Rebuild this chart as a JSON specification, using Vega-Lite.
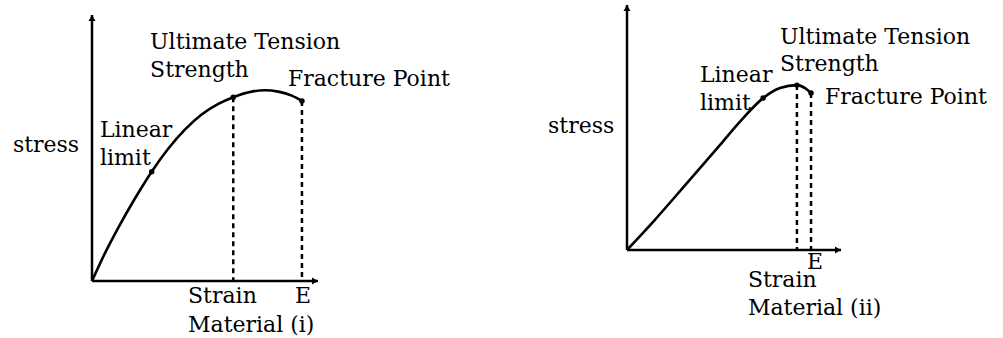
{
  "$schema": "https://vega.github.io/schema/vega-lite/v6.json",
  "background": "white",
  "padding": 0,
  "spacing": 0,
  "config": {"view": {"stroke": null}},
  "datasets": {
    "curve_i": [
      {"x": 0, "y": 0}, {"x": 5.75, "y": 10.5}, {"x": 11.6, "y": 20.0}, {"x": 19.0, "y": 31.0},
      {"x": 26.4, "y": 41.1}, {"x": 33.8, "y": 49.8}, {"x": 41.2, "y": 57.0}, {"x": 48.5, "y": 62.6},
      {"x": 55.9, "y": 66.6}, {"x": 62.5, "y": 69.1}, {"x": 70.7, "y": 71.2}, {"x": 76.5, "y": 71.7},
      {"x": 82.4, "y": 71.2}, {"x": 88.4, "y": 69.7}, {"x": 92.9, "y": 67.7}
    ],
    "points_i": [
      {"name": "Linear limit", "x": 26.4, "y": 41.1},
      {"name": "Ultimate Tension Strength", "x": 62.5, "y": 69.1},
      {"name": "Fracture Point", "x": 92.9, "y": 67.7}
    ],
    "drops_i": [
      {"x": 62.5, "y": 69.1, "x2": 62.5, "y2": 0},
      {"x": 92.9, "y": 67.7, "x2": 92.9, "y2": 0}
    ],
    "axes_i": [
      {"dir": "right", "x": 0, "y": 0, "x2": 100, "y2": 0},
      {"dir": "up", "x": 0, "y": 0, "x2": 0, "y2": 100}
    ],
    "labels_i": [
      {"label": "Ultimate Tension", "x": 25.7, "y": 87.2},
      {"label": "Strength", "x": 25.7, "y": 76.7},
      {"label": "Fracture Point", "x": 86.7, "y": 73.3},
      {"label": "Linear", "x": 3.5, "y": 54.1},
      {"label": "limit", "x": 3.5, "y": 43.6},
      {"label": "stress", "x": -35.0, "y": 48.5},
      {"label": "Strain", "x": 42.5, "y": -8.3},
      {"label": "E", "x": 89.8, "y": -8.3},
      {"label": "Material (i)", "x": 42.5, "y": -19.2}
    ],
    "curve_ii": [
      {"x": 0, "y": 0}, {"x": 12.3, "y": 11.6}, {"x": 27.9, "y": 27.2}, {"x": 43.5, "y": 42.9},
      {"x": 52.8, "y": 52.4}, {"x": 63.6, "y": 62.0}, {"x": 71.5, "y": 66.1}, {"x": 79.4, "y": 67.3},
      {"x": 83.2, "y": 66.1}, {"x": 86.0, "y": 64.1}
    ],
    "points_ii": [
      {"name": "Linear limit", "x": 63.6, "y": 62.0},
      {"name": "Ultimate Tension Strength", "x": 79.4, "y": 67.3},
      {"name": "Fracture Point", "x": 86.0, "y": 64.1}
    ],
    "drops_ii": [
      {"x": 79.4, "y": 67.3, "x2": 79.4, "y2": 0},
      {"x": 86.0, "y": 64.1, "x2": 86.0, "y2": 0}
    ],
    "axes_ii": [
      {"dir": "right", "x": 0, "y": 0, "x2": 100, "y2": 0},
      {"dir": "up", "x": 0, "y": 0, "x2": 0, "y2": 100}
    ],
    "labels_ii": [
      {"label": "Ultimate Tension", "x": 71.5, "y": 84.1},
      {"label": "Strength", "x": 71.5, "y": 73.1},
      {"label": "Linear", "x": 34.1, "y": 68.6},
      {"label": "limit", "x": 34.1, "y": 57.1},
      {"label": "Fracture Point", "x": 92.5, "y": 59.6},
      {"label": "stress", "x": -36.9, "y": 47.8},
      {"label": "E", "x": 84.1, "y": -7.9},
      {"label": "Strain", "x": 56.5, "y": -15.1},
      {"label": "Material (ii)", "x": 56.5, "y": -26.5}
    ]
  },
  "hconcat": [
    {
      "width": 500,
      "height": 338,
      "encoding": {
        "x": {"field": "x", "type": "quantitative", "axis": null, "scale": {"domain": [0, 100], "range": [92, 318], "nice": false, "zero": false}},
        "y": {"field": "y", "type": "quantitative", "axis": null, "scale": {"domain": [0, 100], "range": [281, 15], "nice": false, "zero": false}}
      },
      "layer": [
        {"data": {"name": "axes_i"}, "mark": {"type": "rule", "color": "black", "strokeWidth": 2.5},
         "encoding": {"x2": {"field": "x2"}, "y2": {"field": "y2"}}},
        {"data": {"name": "axes_i"}, "transform": [{"filter": "datum.dir == 'up'"}],
         "mark": {"type": "point", "shape": "triangle-up", "filled": true, "size": 49, "color": "black", "opacity": 1, "yOffset": 3},
         "encoding": {"x": {"field": "x2", "type": "quantitative"}, "y": {"field": "y2", "type": "quantitative"}}},
        {"data": {"name": "axes_i"}, "transform": [{"filter": "datum.dir == 'right'"}],
         "mark": {"type": "point", "shape": "triangle-right", "filled": true, "size": 49, "color": "black", "opacity": 1, "xOffset": -3},
         "encoding": {"x": {"field": "x2", "type": "quantitative"}, "y": {"field": "y2", "type": "quantitative"}}},
        {"data": {"name": "drops_i"}, "mark": {"type": "rule", "color": "black", "strokeWidth": 2.5, "strokeDash": [5, 4]},
         "encoding": {"x2": {"field": "x2"}, "y2": {"field": "y2"}}},
        {"data": {"name": "curve_i"}, "mark": {"type": "line", "interpolate": "monotone", "color": "black", "strokeWidth": 2.6}},
        {"data": {"name": "points_i"}, "mark": {"type": "point", "filled": true, "size": 30, "color": "black", "opacity": 1}},
        {"data": {"name": "labels_i"}, "mark": {"type": "text", "align": "left", "baseline": "alphabetic", "font": "DejaVu Serif", "fontSize": 22, "color": "black"},
         "encoding": {"text": {"field": "label"}}}
      ]
    },
    {
      "width": 503,
      "height": 338,
      "encoding": {
        "x": {"field": "x", "type": "quantitative", "axis": null, "scale": {"domain": [0, 100], "range": [127, 341], "nice": false, "zero": false}},
        "y": {"field": "y", "type": "quantitative", "axis": null, "scale": {"domain": [0, 100], "range": [250, 5], "nice": false, "zero": false}}
      },
      "layer": [
        {"data": {"name": "axes_ii"}, "mark": {"type": "rule", "color": "black", "strokeWidth": 2.5},
         "encoding": {"x2": {"field": "x2"}, "y2": {"field": "y2"}}},
        {"data": {"name": "axes_ii"}, "transform": [{"filter": "datum.dir == 'up'"}],
         "mark": {"type": "point", "shape": "triangle-up", "filled": true, "size": 49, "color": "black", "opacity": 1, "yOffset": 3},
         "encoding": {"x": {"field": "x2", "type": "quantitative"}, "y": {"field": "y2", "type": "quantitative"}}},
        {"data": {"name": "axes_ii"}, "transform": [{"filter": "datum.dir == 'right'"}],
         "mark": {"type": "point", "shape": "triangle-right", "filled": true, "size": 49, "color": "black", "opacity": 1, "xOffset": -3},
         "encoding": {"x": {"field": "x2", "type": "quantitative"}, "y": {"field": "y2", "type": "quantitative"}}},
        {"data": {"name": "drops_ii"}, "mark": {"type": "rule", "color": "black", "strokeWidth": 2.5, "strokeDash": [5, 4]},
         "encoding": {"x2": {"field": "x2"}, "y2": {"field": "y2"}}},
        {"data": {"name": "curve_ii"}, "mark": {"type": "line", "interpolate": "monotone", "color": "black", "strokeWidth": 2.6}},
        {"data": {"name": "points_ii"}, "mark": {"type": "point", "filled": true, "size": 30, "color": "black", "opacity": 1}},
        {"data": {"name": "labels_ii"}, "mark": {"type": "text", "align": "left", "baseline": "alphabetic", "font": "DejaVu Serif", "fontSize": 22, "color": "black"},
         "encoding": {"text": {"field": "label"}}}
      ]
    }
  ]
}
